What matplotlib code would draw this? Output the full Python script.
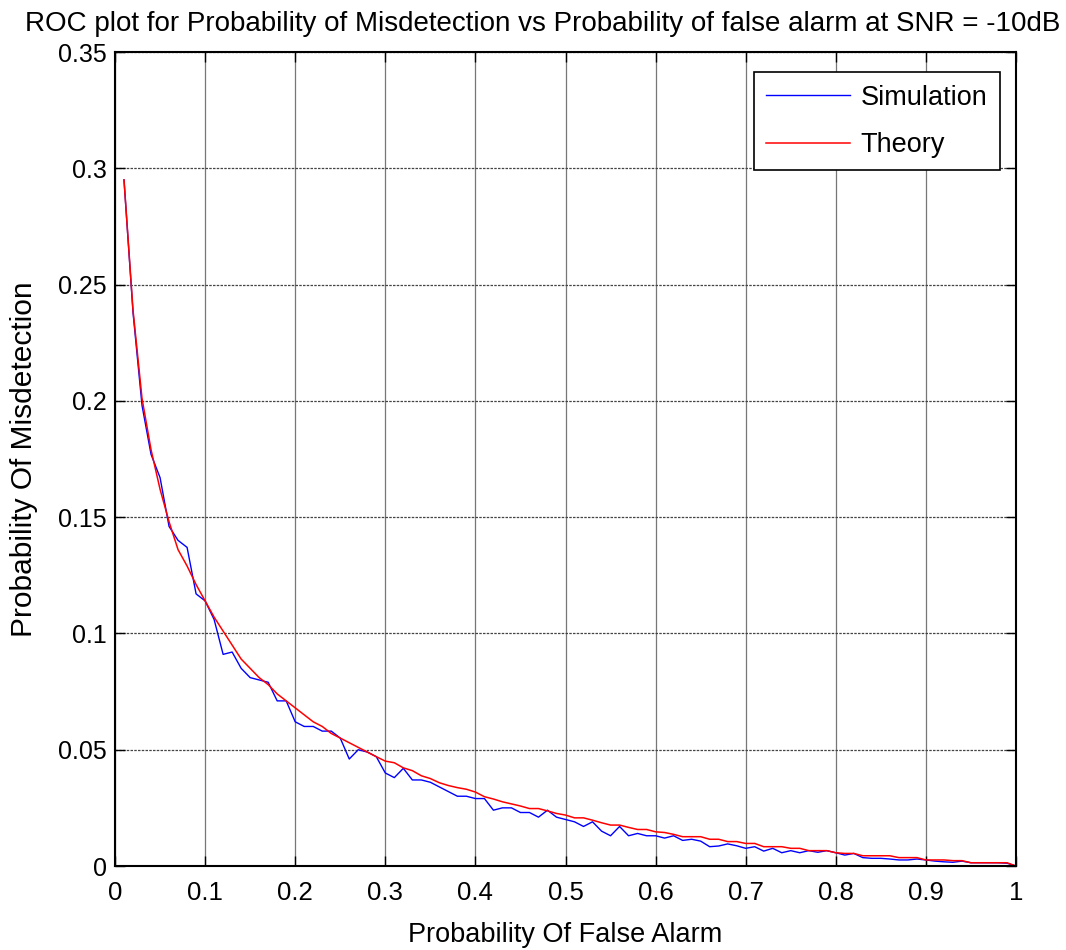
import numpy as np
import matplotlib
matplotlib.use('Agg')
import matplotlib.pyplot as plt

plt.rcParams['font.family'] = ['Liberation Sans', 'DejaVu Sans']

# false alarm grid (0.01 .. 1.00)
pf = np.round(np.arange(1, 101) * 0.01, 2)

# simulated probability of misdetection
pm_sim = [0.295, 0.238, 0.198, 0.177, 0.167, 0.146, 0.140, 0.137, 0.117, 0.114,
          0.106, 0.091, 0.092, 0.085, 0.081, 0.080, 0.079, 0.071, 0.071, 0.062,
          0.060, 0.060, 0.058, 0.058, 0.055, 0.046, 0.050, 0.049, 0.047, 0.040,
          0.038, 0.042, 0.037, 0.037, 0.036, 0.034, 0.032, 0.030, 0.030, 0.029,
          0.029, 0.024, 0.025, 0.025, 0.023, 0.023, 0.021, 0.024, 0.021, 0.020,
          0.019, 0.017, 0.019, 0.015, 0.013, 0.017, 0.013, 0.014, 0.013, 0.013,
          0.012, 0.013, 0.011, 0.0115, 0.0107, 0.0083, 0.0086, 0.0095, 0.0087, 0.0076,
          0.0083, 0.0064, 0.0076, 0.0057, 0.0066, 0.0057, 0.0066, 0.0059, 0.0066, 0.0057,
          0.0047, 0.0054, 0.0036, 0.0033, 0.0033, 0.0030, 0.0026, 0.0026, 0.0030, 0.0026,
          0.0021, 0.0018, 0.0016, 0.0021, 0.0014, 0.0014, 0.0014, 0.0014, 0.0012, 0.0]

# theoretical probability of misdetection
pm_theory = [0.295, 0.239, 0.201, 0.179, 0.162, 0.148, 0.136, 0.129, 0.121, 0.114,
             0.107, 0.101, 0.095, 0.089, 0.085, 0.081, 0.078, 0.074, 0.071, 0.068,
             0.065, 0.062, 0.060, 0.057, 0.055, 0.053, 0.051, 0.049, 0.047, 0.0451,
             0.0444, 0.0422, 0.0410, 0.0388, 0.0376, 0.0358, 0.0346, 0.0337, 0.0330, 0.0318,
             0.0298, 0.0288, 0.0276, 0.0267, 0.0258, 0.0247, 0.0247, 0.0237, 0.0226, 0.0219,
             0.0207, 0.0207, 0.0197, 0.0186, 0.0176, 0.0176, 0.0166, 0.0157, 0.0157, 0.0147,
             0.0144, 0.0136, 0.0126, 0.0126, 0.0126, 0.0115, 0.0115, 0.0105, 0.0105, 0.0097,
             0.0097, 0.0083, 0.0083, 0.0083, 0.0076, 0.0076, 0.0066, 0.0066, 0.0066, 0.0057,
             0.0054, 0.0054, 0.0044, 0.0044, 0.0044, 0.0044, 0.0036, 0.0036, 0.0036, 0.0026,
             0.0026, 0.0026, 0.0023, 0.0023, 0.0014, 0.0014, 0.0014, 0.0014, 0.0014, 0.0]

xticks = [0, 0.1, 0.2, 0.3, 0.4, 0.5, 0.6, 0.7, 0.8, 0.9, 1]
xlabels = ['0', '0.1', '0.2', '0.3', '0.4', '0.5', '0.6', '0.7', '0.8', '0.9', '1']
yticks = [0, 0.05, 0.1, 0.15, 0.2, 0.25, 0.3, 0.35]
ylabels = ['0', '0.05', '0.1', '0.15', '0.2', '0.25', '0.3', '0.35']

fig = plt.figure(figsize=(10.66, 9.5), dpi=100)
ax = fig.add_axes([115 / 1066, 1 - 866 / 950, 901 / 1066, 814 / 950])

ax.plot(pf, pm_sim, color='#0000ff', lw=1.0, label='Simulation')
ax.plot(pf, pm_theory, color='#ff0000', lw=1.1, label='Theory')

ax.set_xlim(0, 1)
ax.set_ylim(0, 0.35)
ax.set_xticks(xticks)
ax.set_xticklabels(xlabels, fontsize=18.5)
ax.set_yticks(yticks)
ax.set_yticklabels(ylabels, fontsize=18)
ax.tick_params(direction='in', length=7, width=1, top=True, right=True)
ax.tick_params(axis='x', pad=11)
ax.tick_params(axis='y', pad=6)

# matlab style grid
ax.xaxis.grid(True, color='#777777', lw=0.9, ls='-')
ax.yaxis.grid(True, color='#444444', lw=0.9, ls=(0, (2, 1)))
for s in ax.spines.values():
    s.set_linewidth(1.5)
    s.set_color('black')

ax.set_title('ROC plot for Probability of Misdetection vs Probability of false alarm at SNR = -10dB',
             fontsize=20, pad=15, x=0.475)
ax.set_xlabel('Probability Of False Alarm', fontsize=19.5, labelpad=12)
ax.set_ylabel('Probability Of Misdetection', fontsize=21.5, labelpad=14)

leg = ax.legend(loc='upper right', bbox_to_anchor=(0.982, 0.975), borderaxespad=0,
                fontsize=19.5, fancybox=False, edgecolor='black', framealpha=1,
                handlelength=3.1, handletextpad=0.4, labelspacing=0.8,
                borderpad=0.45)
leg.get_frame().set_linewidth(1.2)

fig.savefig('out.png', dpi=100)
